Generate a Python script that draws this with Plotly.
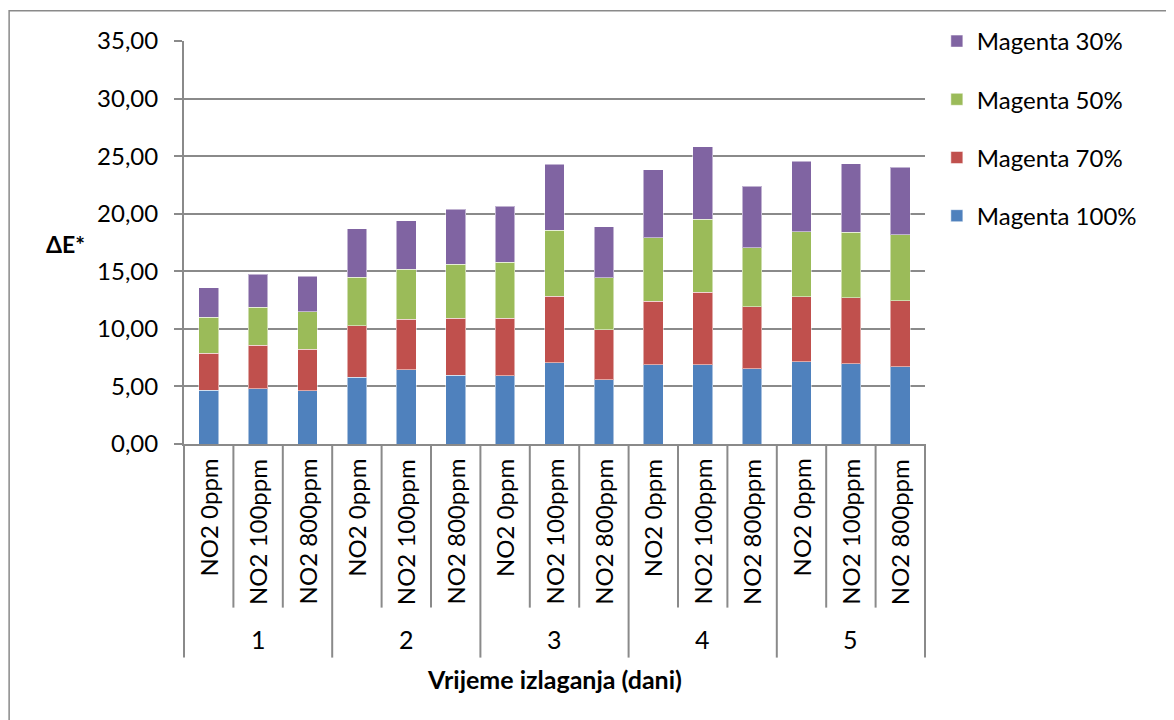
import plotly.graph_objects as go

days = ["1", "2", "3", "4", "5"]
exposures = ["NO2 0ppm", "NO2 100ppm", "NO2 800ppm"]

magenta_100 = [4.67, 4.79, 4.61, 5.79, 6.43, 5.97, 5.91, 7.07, 5.56, 6.89, 6.89, 6.55, 7.15, 6.98, 6.69]
magenta_70 = [3.23, 3.77, 3.63, 4.47, 4.41, 4.93, 5.02, 5.76, 4.36, 5.51, 6.29, 5.36, 5.63, 5.74, 5.77]
magenta_50 = [3.09, 3.32, 3.26, 4.24, 4.33, 4.73, 4.87, 5.74, 4.53, 5.50, 6.34, 5.13, 5.67, 5.65, 5.71]
magenta_30 = [2.59, 2.85, 3.09, 4.21, 4.21, 4.76, 4.87, 5.71, 4.44, 5.92, 6.28, 5.36, 6.09, 5.97, 5.85]

series = [
    ("Magenta 100%", magenta_100, "#4F81BD"),
    ("Magenta 70%", magenta_70, "#C0504D"),
    ("Magenta 50%", magenta_50, "#9BBB59"),
    ("Magenta 30%", magenta_30, "#8064A2"),
]

cats = [f"{d} | {e}" for d in days for e in exposures]
n = len(cats)

FONT = "Lato"
GRID = "#8a8a8a"

fig = go.Figure()
for i, (name, vals, col) in enumerate(series):
    fig.add_trace(go.Bar(
        x=cats, y=vals, name=name, legendgroup=name,
        legendrank=len(series) - i,  # top of the stack first in the legend
        marker=dict(color=col, line=dict(color="rgba(255,255,255,0.5)", width=1)),
    ))

shapes = []
ann = []
# separators under the axis
for k in range(n + 1):
    outer = k % len(exposures) == 0
    shapes.append(dict(
        type="line", xref="paper", yref="paper",
        x0=k / n, x1=k / n, y0=0, y1=-0.53 if outer else -0.406,
        line=dict(color=GRID, width=2),
    ))
for i, c in enumerate(cats):
    ann.append(dict(
        x=i, y=-0.032, xref="x", yref="paper", text=c.split(" | ")[1],
        textangle=-90, showarrow=False, yanchor="top", xanchor="center",
        font=dict(size=24, color="black", family=FONT),
    ))
for j, d in enumerate(days):
    ann.append(dict(
        x=j * len(exposures) + 1, y=-0.485, xref="x", yref="paper", text=d,
        showarrow=False, yanchor="middle", xanchor="center",
        font=dict(size=25, color="black", family=FONT),
    ))
ann.append(dict(
    x=0.5, y=-0.582, xref="paper", yref="paper", text="<b>Vrijeme izlaganja (dani)</b>",
    showarrow=False, yanchor="middle", xanchor="center",
    font=dict(size=25, color="black", family=FONT),
))
ann.append(dict(
    x=-0.16, y=0.4975, xref="paper", yref="paper", text="<b>ΔE*</b>",
    showarrow=False, yanchor="middle", xanchor="center",
    font=dict(size=23, color="black", family=FONT),
))
# outer chart border
shapes.append(dict(
    type="rect", xref="paper", yref="paper",
    x0=-0.236, x1=1.34, y0=-0.72, y1=1.075,
    line=dict(color=GRID, width=1.5),
))

fig.update_layout(
    width=1166, height=712,
    margin=dict(l=176, r=249, t=32, b=276),
    barmode="stack", bargap=0.6,
    plot_bgcolor="white", paper_bgcolor="white",
    separators=", ",
    font=dict(family=FONT, size=24, color="black"),
    shapes=shapes, annotations=ann,
    legend=dict(
        x=1.016, y=1.052, xanchor="left", yanchor="top",
        traceorder="grouped", tracegroupgap=24,
        font=dict(size=24, family=FONT), itemwidth=30,
    ),
    xaxis=dict(
        range=[-0.5, n - 0.5], showticklabels=False, showgrid=False,
        showline=True, linecolor=GRID, linewidth=2, ticks="",
    ),
    yaxis=dict(
        range=[0, 35], dtick=5, tickformat=".2f",
        showgrid=True, gridcolor=GRID, gridwidth=2,
        showline=True, linecolor=GRID, linewidth=2,
        ticks="outside", ticklen=8, tickcolor=GRID, tickwidth=2,
        ticklabelstandoff=11, zeroline=False,
        tickfont=dict(size=24, family=FONT),
    ),
)

fig.write_html("out.html")
